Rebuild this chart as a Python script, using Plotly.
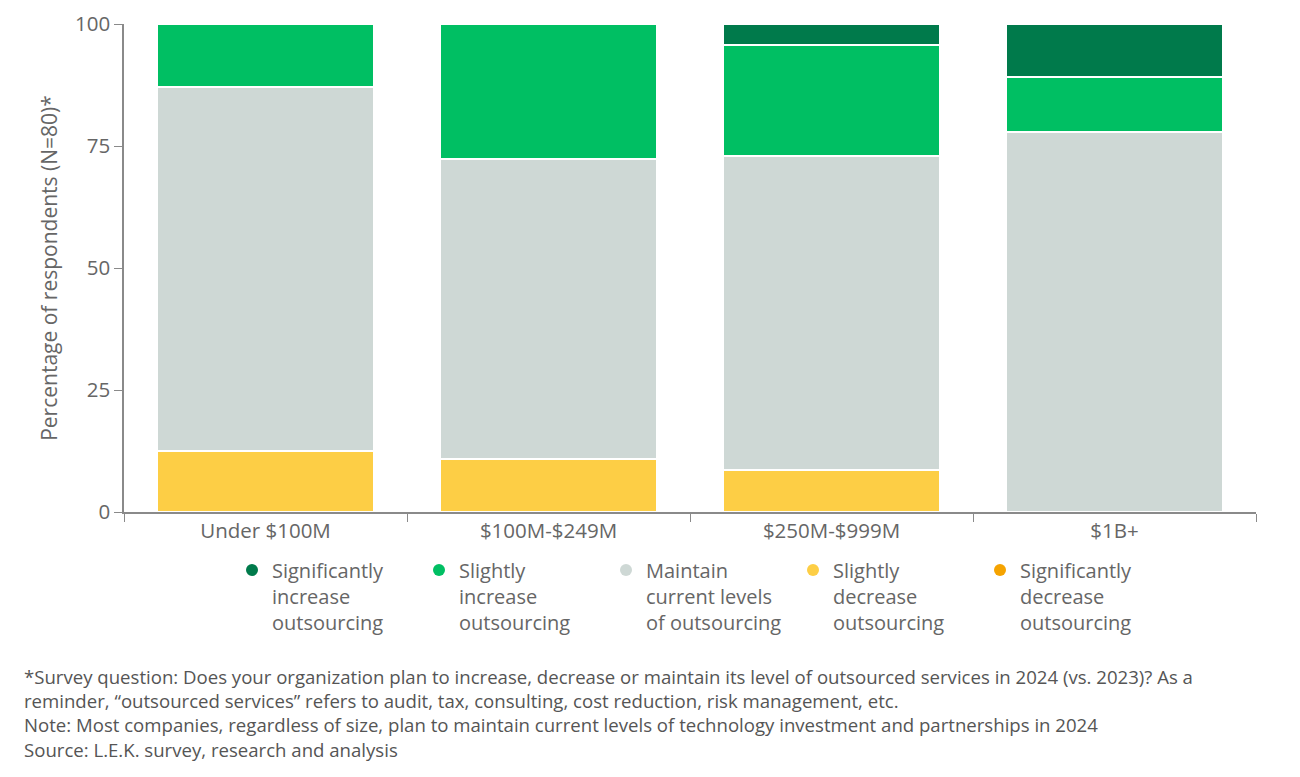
import plotly.graph_objects as go

# revenue bands
categories = ["Under $100M", "$100M-$249M", "$250M-$999M", "$1B+"]

# share of respondents per answer (%)
sig_increase = [0, 0, 4.2, 10.8]
slight_increase = [12.9, 27.6, 22.8, 11.3]
maintain = [74.6, 61.6, 64.4, 77.9]
slight_decrease = [12.5, 10.8, 8.6, 0]
sig_decrease = [0, 0, 0, 0]

series_names = [
    "Significantly<br>increase<br>outsourcing",
    "Slightly<br>increase<br>outsourcing",
    "Maintain<br>current levels<br>of outsourcing",
    "Slightly<br>decrease<br>outsourcing",
    "Significantly<br>decrease<br>outsourcing",
]
series_values = [sig_increase, slight_increase, maintain, slight_decrease, sig_decrease]
colors = ["#007a4b", "#00bf63", "#ced8d5", "#fdce45", "#f5a300"]

y_ticks = [0, 25, 50, 75, 100]

footnotes = [
    "*Survey question: Does your organization plan to increase, decrease or maintain its level of outsourced services in 2024 (vs. 2023)? As a",
    "reminder, \u201coutsourced services\u201d refers to audit, tax, consulting, cost reduction, risk management, etc.",
    "Note: Most companies, regardless of size, plan to maintain current levels of technology investment and partnerships in 2024",
    "Source: L.E.K. survey, research and analysis",
]

FONT = "Open Sans"
GREY = "#666666"

fig = go.Figure()

# stack from the bottom up: decrease first, increase last
for name, vals, col in reversed(list(zip(series_names, series_values, colors))):
    fig.add_trace(go.Bar(
        x=categories, y=vals, name=name,
        marker=dict(color=col, line=dict(color="white", width=2)),
        showlegend=False,
    ))

# round legend markers
for name, col in zip(series_names, colors):
    fig.add_trace(go.Scatter(
        x=[None], y=[None], mode="markers", name=name,
        marker=dict(color=col, size=17, symbol="circle"),
    ))

fig.update_layout(
    barmode="stack",
    bargap=0.233,
    width=1300, height=777,
    margin=dict(l=116, r=52, t=16, b=273),
    paper_bgcolor="white", plot_bgcolor="white",
    font=dict(family=FONT, color=GREY, size=18),
    showlegend=True,
    legend=dict(
        orientation="h", x=0.0954, xanchor="left", y=-0.079, yanchor="top",
        traceorder="normal", valign="top",
        font=dict(family=FONT, size=20, color=GREY),
        entrywidth=142, entrywidthmode="pixels",
        itemsizing="constant",
    ),
    xaxis=dict(
        automargin=False,
        showline=True, linecolor="#8a8a8a", linewidth=1.5,
        ticks="outside", tickson="boundaries", ticklen=8, tickcolor="#8a8a8a",
        tickfont=dict(size=20.5, color=GREY),
        showgrid=False,
    ),
    yaxis=dict(
        automargin=False,
        range=[0, 100], tickvals=y_ticks,
        showline=True, linecolor="#8a8a8a", linewidth=1.5,
        ticks="outside", ticklen=8, tickcolor="#8a8a8a",
        tickfont=dict(size=20.5, color=GREY),
        showgrid=False, zeroline=False,
        title=dict(text="Percentage of respondents (N=80)*", font=dict(size=21, color=GREY), standoff=12),
    ),
)

fig.add_annotation(
    text="<br>".join(footnotes),
    xref="paper", yref="paper", x=-0.0901, y=-0.307,
    xanchor="left", yanchor="top", align="left", showarrow=False,
    font=dict(family=FONT, size=18.6, color="#555555"),
)

fig.write_html("out.html")
